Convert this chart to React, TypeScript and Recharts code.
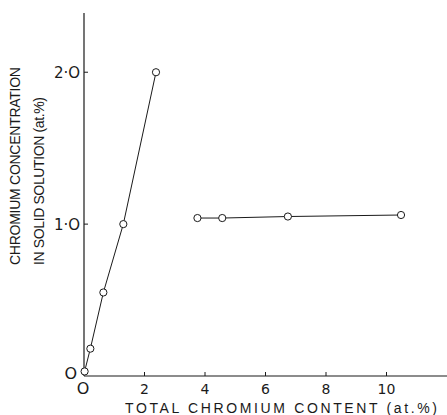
import { ScatterChart, Scatter, XAxis, YAxis } from "recharts";

const steepX = [0.02, 0.21, 0.64, 1.3, 2.38];
const steepY = [0.03, 0.18, 0.55, 1.0, 2.0];
const flatX = [3.75, 4.57, 6.74, 10.48];
const flatY = [1.04, 1.04, 1.05, 1.06];
const xTicks = [0, 2, 4, 6, 8, 10];
const yTicks = [0, 1, 2];
const yTickLabels = ["O", "1·O", "2·O"];

const steep = steepX.map((x, i) => ({ x, y: steepY[i] }));
const flat = flatX.map((x, i) => ({ x, y: flatY[i] }));

const ink = "#1a1a1a";
const font = "'DejaVu Sans', sans-serif";
const labelFont = "'Liberation Sans', Arial, sans-serif";

function Dot(props: any) {
  return <circle cx={props.cx} cy={props.cy} r={3.6} fill="#fff" stroke={ink} strokeWidth={1} />;
}

// with tickSize 0 / tickMargin 0 the tick's x,y sit on the axis line
function XTick({ x, y, payload }: any) {
  const zero = payload.value === 0;
  return (
    <g>
      {!zero && <line x1={x} x2={x} y1={y} y2={y - 4} stroke={ink} strokeWidth={1} />}
      <text
        x={zero ? x - 1 : x}
        y={y + 18}
        textAnchor="middle"
        fontSize={zero ? 16 : 14}
        fontFamily={font}
        fill={ink}
      >
        {zero ? "O" : payload.value}
      </text>
    </g>
  );
}

function YTick({ x, y, payload, index }: any) {
  const zero = payload.value === 0;
  return (
    <g>
      {!zero && <line x1={x} x2={x + 4} y1={y} y2={y} stroke={ink} strokeWidth={1} />}
      <text
        x={zero ? x - 7 : x - 4}
        y={zero ? y + 3 : y + 6}
        textAnchor="end"
        fontSize={zero ? 16 : 15}
        fontFamily={font}
        fill={ink}
      >
        {yTickLabels[index]}
      </text>
    </g>
  );
}

export default function App() {
  return (
    <div style={{ position: "absolute", left: 0, top: 0, width: 447, height: 415, background: "#fff" }}>
      <ScatterChart width={447} height={415} margin={{ top: 13, right: 0, left: 0, bottom: 0 }}>
        <XAxis
          type="number"
          dataKey="x"
          domain={[0, 12]}
          ticks={xTicks}
          height={39}
          tickSize={0}
          tickMargin={0}
          tickLine={false}
          axisLine={{ stroke: ink, strokeWidth: 1.2 }}
          tick={<XTick />}
          interval={0}
        />
        <YAxis
          type="number"
          dataKey="y"
          domain={[0, 2.39]}
          ticks={yTicks}
          width={84}
          tickSize={0}
          tickMargin={0}
          tickLine={false}
          axisLine={{ stroke: ink, strokeWidth: 1.2 }}
          tick={<YTick />}
          interval={0}
        />
        <Scatter
          data={steep}
          line={{ stroke: ink, strokeWidth: 1 }}
          shape={<Dot />}
          isAnimationActive={false}
        />
        <Scatter
          data={flat}
          line={{ stroke: ink, strokeWidth: 1 }}
          shape={<Dot />}
          isAnimationActive={false}
        />
      </ScatterChart>
      <svg width={447} height={415} style={{ position: "absolute", left: 0, top: 0, pointerEvents: "none" }}>
        <text
          transform="translate(20,265) rotate(-90)"
          fontSize={14}
          fontFamily={labelFont}
          fill={ink}
          textLength={198}
          lengthAdjust="spacing"
        >
          CHROMIUM CONCENTRATION
        </text>
        <text
          transform="translate(44,265) rotate(-90)"
          fontSize={14}
          fontFamily={labelFont}
          fill={ink}
          textLength={168}
          lengthAdjust="spacing"
        >
          IN SOLID SOLUTION (at.%)
        </text>
        <text x={125} y={413} fontSize={14} fontFamily={labelFont} fill={ink} textLength={312} lengthAdjust="spacing">
          TOTAL CHROMIUM CONTENT (at.%)
        </text>
      </svg>
    </div>
  );
}
